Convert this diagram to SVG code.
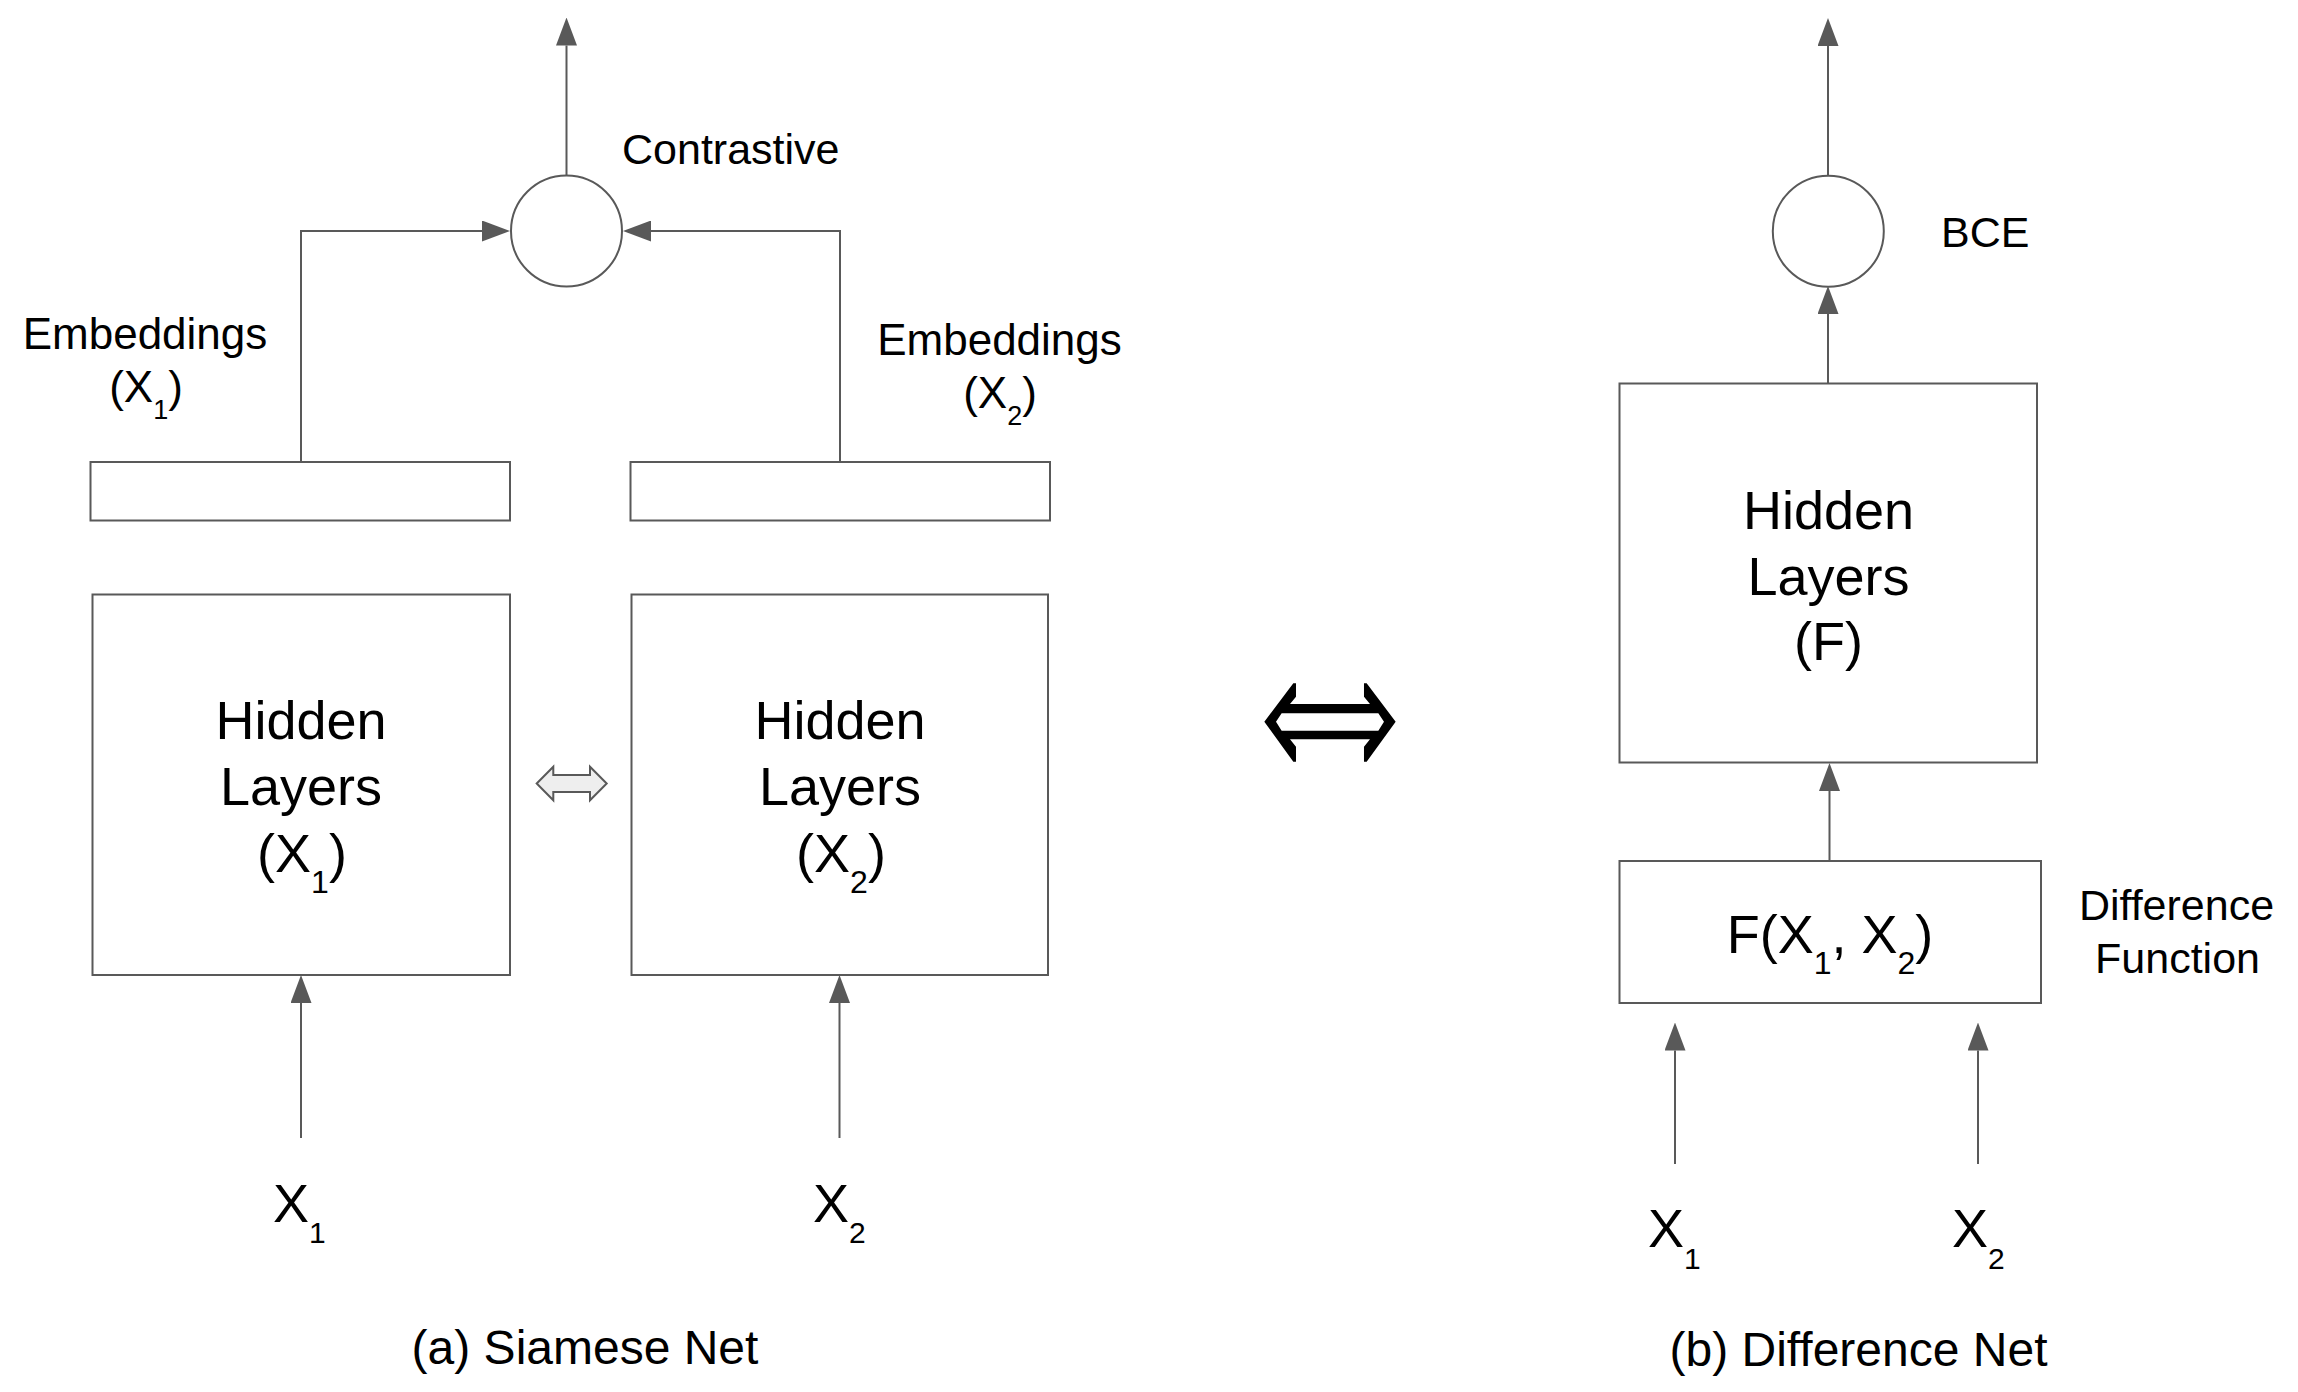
<svg xmlns="http://www.w3.org/2000/svg" width="2298" height="1392" viewBox="0 0 2298 1392">
<defs>
<style>
.box{fill:#fff;stroke:#595959;stroke-width:2}
.ln{fill:none;stroke:#595959;stroke-width:2;marker-end:url(#ah)}
text{font-family:"Liberation Sans",Arial,sans-serif;fill:#000}
.lab{font-size:43px}
.emb{font-size:44px}
.big{font-size:54px}
.cap{font-size:48px}
</style>
<marker id="ah" viewBox="0 0 28 21" markerWidth="28" markerHeight="21" markerUnits="userSpaceOnUse" refX="0" refY="10.5" orient="auto">
<path d="M0,0 L28,10.5 L0,21 Z" fill="#595959"/>
</marker>
</defs>
<rect width="2298" height="1392" fill="#fff"/>

<g id="connectors">
<line class="ln" x1="566.5" y1="176.5" x2="566.5" y2="45.5"/>
<polyline class="ln" points="301,461 301,231 482,231"/>
<polyline class="ln" points="840,461 840,231 651,231"/>
<line class="ln" x1="301" y1="1138" x2="301" y2="1003"/>
<line class="ln" x1="839.5" y1="1138" x2="839.5" y2="1003"/>
<line class="ln" x1="1828" y1="177" x2="1828" y2="46"/>
<line class="ln" x1="1828" y1="383.5" x2="1828" y2="314"/>
<line class="ln" x1="1829.5" y1="861" x2="1829.5" y2="791"/>
<line class="ln" x1="1675" y1="1164" x2="1675" y2="1050.5"/>
<line class="ln" x1="1978" y1="1164" x2="1978" y2="1050.5"/>
</g>

<g id="contrastive">
<circle class="box" cx="566.5" cy="231" r="55.5"/>
<text class="lab" x="622" y="163.5">Contrastive</text>
</g>

<g id="emb1">
<rect class="box" x="90.5" y="462" width="419.5" height="58.5"/>
<text class="emb" x="145" y="349.3" text-anchor="middle">Embeddings</text>
<text class="emb" x="146" y="401.7" text-anchor="middle">(X<tspan font-size="27" dy="17">1</tspan><tspan dy="-17">)</tspan></text>
</g>

<g id="emb2">
<rect class="box" x="630.5" y="462" width="419.5" height="58.5"/>
<text class="emb" x="999.5" y="354.5" text-anchor="middle">Embeddings</text>
<text class="emb" x="1000" y="407.5" text-anchor="middle">(X<tspan font-size="27" dy="17">2</tspan><tspan dy="-17">)</tspan></text>
</g>

<g id="hidden1">
<rect class="box" x="92.5" y="594.5" width="417.5" height="380.5"/>
<text class="big" x="301" y="739.3" text-anchor="middle">Hidden</text>
<text class="big" x="301" y="805" text-anchor="middle">Layers</text>
<text class="big" x="302" y="871.5" text-anchor="middle">(X<tspan font-size="32" dy="21">1</tspan><tspan dy="-21">)</tspan></text>
</g>

<g id="hidden2">
<rect class="box" x="631.5" y="594.5" width="416.5" height="380.5"/>
<text class="big" x="840" y="739.3" text-anchor="middle">Hidden</text>
<text class="big" x="840" y="805" text-anchor="middle">Layers</text>
<text class="big" x="841" y="871.5" text-anchor="middle">(X<tspan font-size="32" dy="21">2</tspan><tspan dy="-21">)</tspan></text>
</g>

<g id="shared">
<polygon points="536.7,783.5 553.3,766.7 553.3,775 590,775 590,766.7 606.7,783.5 590,800.3 590,792 553.3,792 553.3,800.3" fill="#eeeeee" stroke="#595959" stroke-width="2" stroke-linejoin="miter"/>
</g>

<g id="x1a">
<text class="big" x="273" y="1221.7">X<tspan font-size="30" dy="21.5">1</tspan></text>
</g>
<g id="x2a">
<text class="big" x="813" y="1221.7">X<tspan font-size="30" dy="21.5">2</tspan></text>
</g>

<g id="captionA">
<text class="cap" x="585" y="1363.5" text-anchor="middle">(a) Siamese Net</text>
</g>

<g id="equiv">
<path transform="translate(1240,650) scale(0.3333)" fill="#000" fill-rule="evenodd" d="M73,215 L160,100 L168,100 L168,140 L150,162 L390,162 L372,140 L372,100 L380,100 L467,215 L380,335 L372,335 L372,290 L390,268 L150,268 L168,290 L168,335 L160,335 Z M125,190 L415,190 L432,215 L415,242 L125,242 L108,215 Z"/>
</g>

<g id="bce">
<circle class="box" cx="1828.3" cy="231.3" r="55.5"/>
<text class="lab" x="1941" y="247.3">BCE</text>
</g>

<g id="hiddenF">
<rect class="box" x="1619.5" y="383.5" width="417.5" height="379"/>
<text class="big" x="1828.5" y="529" text-anchor="middle">Hidden</text>
<text class="big" x="1828.5" y="595" text-anchor="middle">Layers</text>
<text class="big" x="1828.5" y="660" text-anchor="middle">(F)</text>
</g>

<g id="diff">
<rect class="box" x="1619.5" y="861" width="421.5" height="142"/>
<text class="big" x="1830" y="953" text-anchor="middle">F(X<tspan font-size="32" dy="21">1</tspan><tspan dy="-21">, X</tspan><tspan font-size="32" dy="21">2</tspan><tspan dy="-21">)</tspan></text>
<text class="lab" x="2176.5" y="920" text-anchor="middle">Difference</text>
<text class="lab" x="2177.5" y="973" text-anchor="middle">Function</text>
</g>

<g id="x1b">
<text class="big" x="1648" y="1247">X<tspan font-size="30" dy="21.5">1</tspan></text>
</g>
<g id="x2b">
<text class="big" x="1952" y="1247">X<tspan font-size="30" dy="21.5">2</tspan></text>
</g>

<g id="captionB">
<text class="cap" x="1858.5" y="1366" text-anchor="middle">(b) Difference Net</text>
</g>
</svg>
